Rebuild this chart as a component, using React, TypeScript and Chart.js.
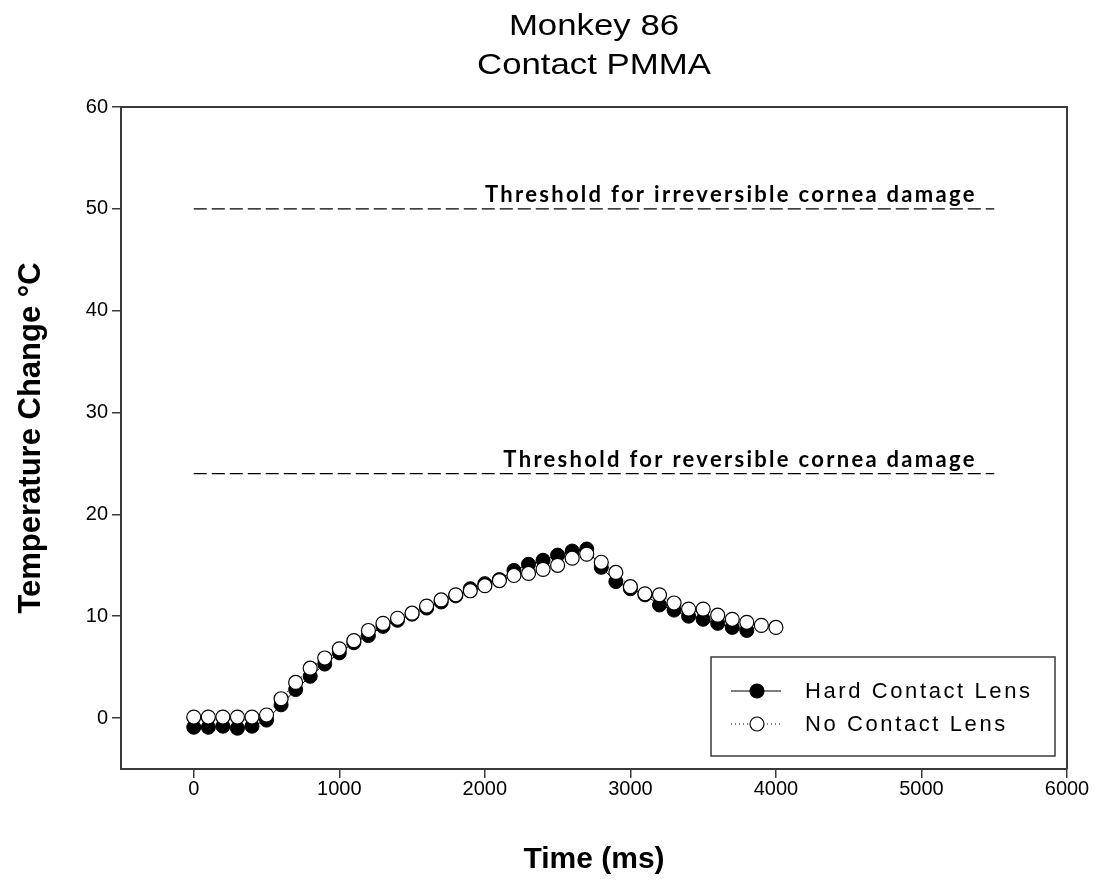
import React, { useEffect, useRef } from 'react';
import { Chart, registerables } from 'chart.js';

Chart.register(...registerables);

// ---------------- data ----------------
const titleLines = ['Monkey 86', 'Contact PMMA'];
const xAxisTitle = 'Time (ms)';
const yAxisTitle = 'Temperature Change °C';
const seriesLabels = ['Hard Contact Lens', 'No Contact Lens'];

const timeMs = [
  0, 100, 200, 300, 400, 500, 600, 700, 800, 900,
  1000, 1100, 1200, 1300, 1400, 1500, 1600, 1700, 1800, 1900,
  2000, 2100, 2200, 2300, 2400, 2500, 2600, 2700, 2800, 2900,
  3000, 3100, 3200, 3300, 3400, 3500, 3600, 3700, 3800, 3900, 4000,
];

const hardContactLens = [
  -0.9, -0.9, -0.8, -1.0, -0.8, -0.2, 1.3, 2.8, 4.1, 5.3,
  6.4, 7.4, 8.1, 9.0, 9.6, 10.2, 10.8, 11.4, 12.0, 12.7,
  13.2, 13.6, 14.5, 15.1, 15.5, 16.0, 16.4, 16.6, 14.8, 13.4,
  12.7, 12.1, 11.1, 10.6, 10.0, 9.7, 9.3, 8.9, 8.6,
];

const noContactLens = [
  0.1, 0.1, 0.1, 0.1, 0.1, 0.3, 1.9, 3.5, 4.9, 5.9,
  6.8, 7.6, 8.6, 9.3, 9.8, 10.3, 11.0, 11.6, 12.1, 12.5,
  13.0, 13.5, 14.0, 14.2, 14.6, 15.0, 15.7, 16.1, 15.3, 14.3,
  12.9, 12.2, 12.1, 11.3, 10.7, 10.7, 10.1, 9.7, 9.4, 9.1, 8.9,
];

const xTicks = [0, 1000, 2000, 3000, 4000, 5000, 6000];
const yTicks = [0, 10, 20, 30, 40, 50, 60];
const xRange = [-500, 6000];
const yRange = [-5, 60];

const thresholdSpan = [0, 5500];
const thresholdValues = [50, 24];
const thresholdLabels = [
  'Threshold for irreversible cornea damage',
  'Threshold for reversible cornea damage',
];
const thresholdLabelEnd = 5380;

// ---------------- helpers ----------------
const FONT = '"Liberation Sans", Arial, sans-serif';
const INK = '#000000';
const FRAME = '#3a3a3a';

const toPoints = (xs: number[], ys: number[]) => ys.map((y, i) => ({ x: xs[i], y }));

const framePlugin = {
  id: 'frameAndNotes',
  beforeDatasetsDraw(chart: any) {
    const { ctx, chartArea: ca } = chart;
    ctx.save();
    ctx.strokeStyle = FRAME;
    ctx.lineWidth = 2;
    ctx.beginPath();
    ctx.moveTo(ca.left, ca.top);
    ctx.lineTo(ca.right, ca.top);
    ctx.lineTo(ca.right, ca.bottom);
    ctx.stroke();
    ctx.restore();

    // title, drawn slightly widened like the original
    ctx.save();
    ctx.fillStyle = INK;
    ctx.font = `29px ${FONT}`;
    ctx.textAlign = 'center';
    ctx.textBaseline = 'middle';
    const cx = (ca.left + ca.right) / 2;
    const offsets = [80, 41];
    titleLines.forEach((t, i) => {
      ctx.save();
      ctx.translate(cx, ca.top - offsets[i]);
      ctx.scale(1.2, 1);
      ctx.fillText(t, 0, 0);
      ctx.restore();
    });
    ctx.restore();
  },
  afterDatasetsDraw(chart: any) {
    const { ctx, chartArea: ca, scales } = chart;
    const xs = scales.x;
    const ys = scales.y;
    // threshold labels
    ctx.save();
    ctx.fillStyle = INK;
    ctx.font = 'bold 22px Lato, "Open Sans", sans-serif';
    (ctx as any).letterSpacing = '2.3px';
    ctx.textAlign = 'right';
    ctx.textBaseline = 'alphabetic';
    thresholdLabels.forEach((t, i) => {
      ctx.fillText(t, xs.getPixelForValue(thresholdLabelEnd), ys.getPixelForValue(thresholdValues[i]) - 7);
    });
    ctx.restore();

    // legend
    const w = 344;
    const h = 99;
    const x0 = Math.round(ca.right - 12 - w);
    const y0 = Math.round(ca.bottom - 13 - h);
    ctx.save();
    ctx.fillStyle = '#ffffff';
    ctx.fillRect(x0, y0, w, h);
    ctx.strokeStyle = FRAME;
    ctx.lineWidth = 1.5;
    ctx.strokeRect(x0, y0, w, h);
    const rows = [y0 + 34, y0 + 67];
    chart.data.datasets.slice(0, 2).forEach((ds: any, i: number) => {
      const ry = rows[i];
      ctx.strokeStyle = INK;
      ctx.lineWidth = 1;
      ctx.setLineDash(ds.borderDash || []);
      ctx.beginPath();
      ctx.moveTo(x0 + 20, ry);
      ctx.lineTo(x0 + 70, ry);
      ctx.stroke();
      ctx.setLineDash([]);
      ctx.beginPath();
      ctx.arc(x0 + 46, ry, 7, 0, Math.PI * 2);
      ctx.fillStyle = ds.pointBackgroundColor;
      ctx.fill();
      ctx.lineWidth = 1.2;
      ctx.strokeStyle = INK;
      ctx.stroke();
      ctx.fillStyle = INK;
      ctx.font = `22px ${FONT}`;
      (ctx as any).letterSpacing = '2.6px';
      ctx.textAlign = 'left';
      ctx.textBaseline = 'middle';
      ctx.fillText(ds.label, x0 + 94, ry + 1);
      (ctx as any).letterSpacing = '0px';
    });
    ctx.restore();
  },
};

export default function App() {
  const canvasRef = useRef<HTMLCanvasElement | null>(null);

  useEffect(() => {
    const canvas = canvasRef.current;
    if (!canvas) return;

    const chart = new Chart(canvas, {
      type: 'scatter',
      data: {
        datasets: [
          {
            label: seriesLabels[0],
            data: toPoints(timeMs, hardContactLens),
            showLine: true,
            borderColor: INK,
            borderWidth: 1,
            pointRadius: 7,
            pointBackgroundColor: INK,
            pointBorderColor: INK,
            pointBorderWidth: 1,
            order: 2,
          },
          {
            label: seriesLabels[1],
            data: toPoints(timeMs, noContactLens),
            showLine: true,
            borderColor: INK,
            borderWidth: 1,
            borderDash: [1, 3],
            pointRadius: 7,
            pointBackgroundColor: '#ffffff',
            pointBorderColor: INK,
            pointBorderWidth: 1.2,
            order: 1,
          },
          {
            label: thresholdLabels[0],
            data: toPoints(thresholdSpan, [thresholdValues[0], thresholdValues[0]]),
            showLine: true,
            borderColor: INK,
            borderWidth: 1.2,
            borderDash: [13, 5],
            pointRadius: 0,
            order: 3,
          },
          {
            label: thresholdLabels[1],
            data: toPoints(thresholdSpan, [thresholdValues[1], thresholdValues[1]]),
            showLine: true,
            borderColor: INK,
            borderWidth: 1.2,
            borderDash: [13, 5],
            pointRadius: 0,
            order: 3,
          },
        ],
      },
      options: {
        animation: false,
        responsive: false,
        devicePixelRatio: 1,
        layout: { padding: { top: 107, right: 34, bottom: 0, left: 0 } },
        plugins: {
          legend: { display: false },
          tooltip: { enabled: false },
          title: { display: false },
        },
        scales: {
          x: {
            type: 'linear',
            min: xRange[0],
            max: xRange[1],
            afterBuildTicks: (s: any) => {
              s.ticks = xTicks.map((v) => ({ value: v }));
            },
            afterFit: (s: any) => {
              s.height = 115;
            },
            grid: {
              display: true,
              drawOnChartArea: false,
              drawTicks: true,
              tickLength: 9,
              color: FRAME,
              lineWidth: 1.5,
            },
            border: { display: true, color: FRAME, width: 2 },
            ticks: {
              color: INK,
              font: { family: FONT, size: 20 },
              padding: -1,
              maxRotation: 0,
              callback: (v: any) => String(v),
            },
            title: {
              display: true,
              text: xAxisTitle,
              color: INK,
              font: { family: FONT, size: 30, weight: 'bold', lineHeight: 1.2 },
              padding: { top: 0, bottom: 6 },
            },
          },
          y: {
            type: 'linear',
            min: yRange[0],
            max: yRange[1],
            afterBuildTicks: (s: any) => {
              s.ticks = yTicks.map((v) => ({ value: v }));
            },
            afterFit: (s: any) => {
              s.width = 121;
            },
            grid: {
              display: true,
              drawOnChartArea: false,
              drawTicks: true,
              tickLength: 9,
              color: FRAME,
              lineWidth: 1.5,
            },
            border: { display: true, color: FRAME, width: 2 },
            ticks: {
              color: INK,
              font: { family: FONT, size: 20 },
              padding: 4,
              callback: (v: any) => String(v),
            },
            title: {
              display: true,
              text: yAxisTitle,
              color: INK,
              font: { family: FONT, size: 31, weight: 'bold', lineHeight: 1.2 },
              padding: { top: 13, bottom: 0 },
            },
          },
        },
      },
      plugins: [framePlugin],
    } as any);

    return () => chart.destroy();
  }, []);

  return (
    <div style={{ position: 'absolute', left: 0, top: 0, width: 1101, height: 884, background: '#fff' }}>
      <canvas ref={canvasRef} width={1101} height={884} style={{ width: 1101, height: 884, display: 'block' }} />
    </div>
  );
}
